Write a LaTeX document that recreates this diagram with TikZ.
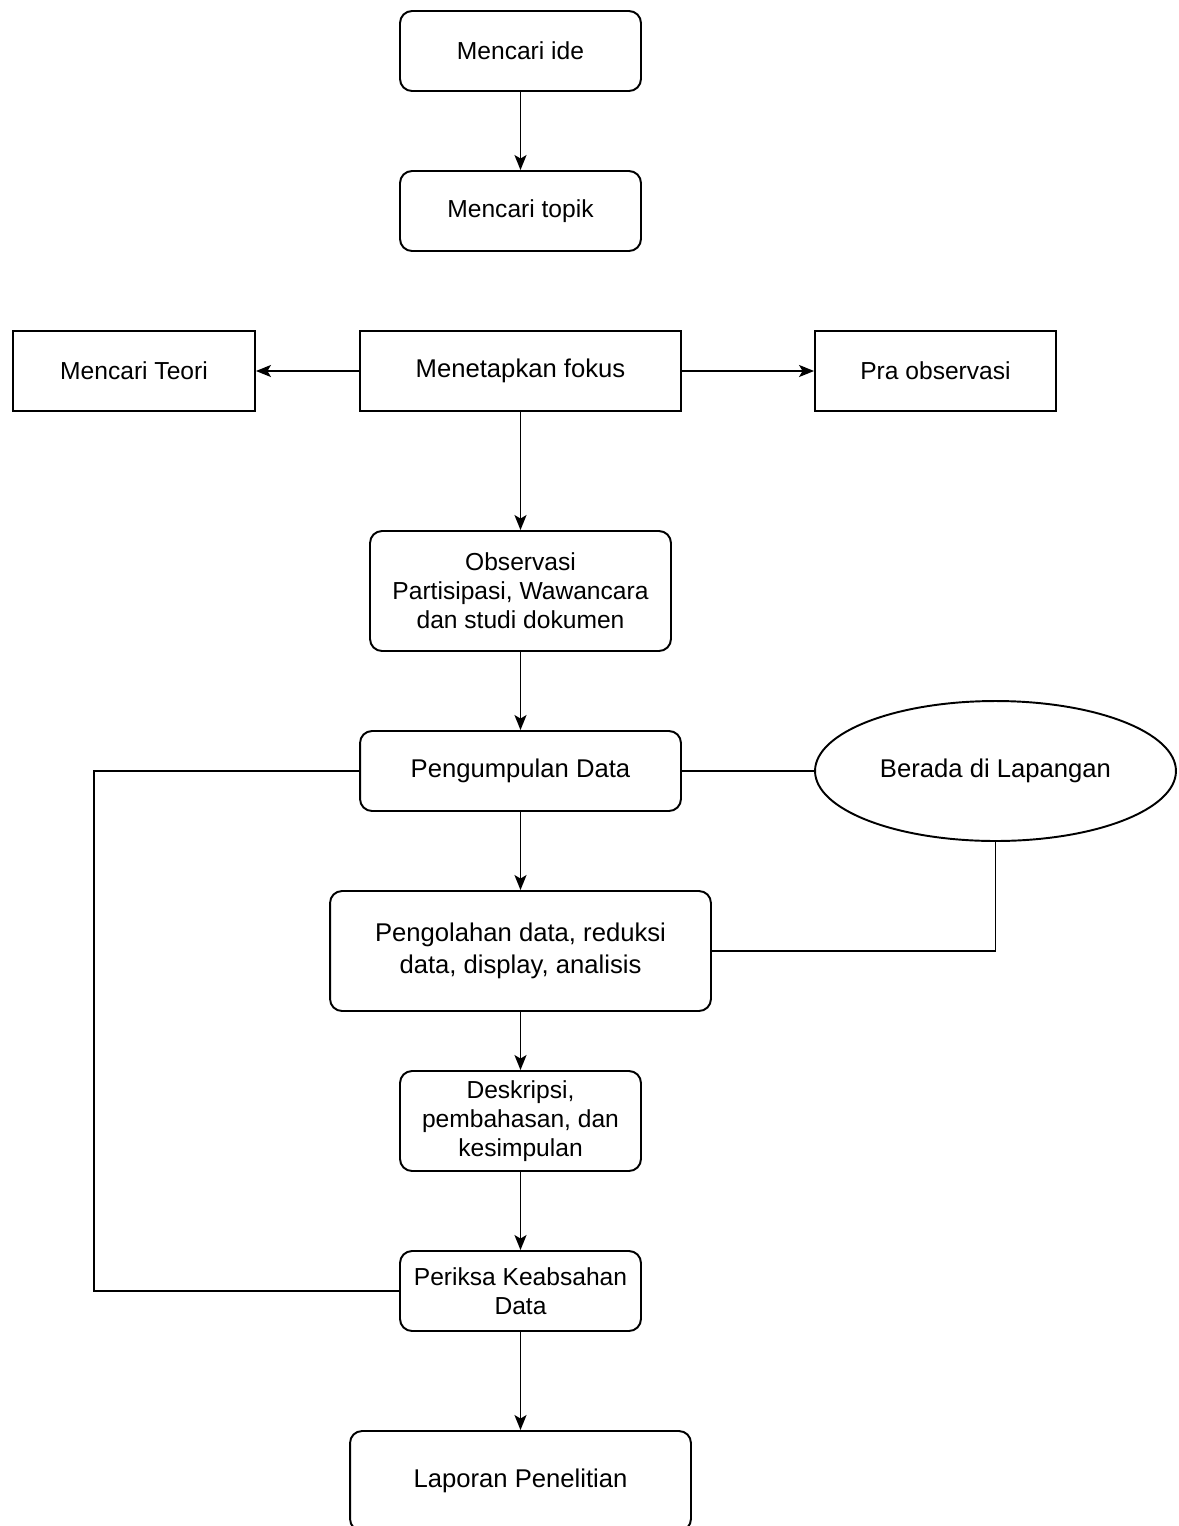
\documentclass[tikz,border=0pt]{standalone}
\usepackage{fontspec}
\setmainfont{Liberation Sans}
\usetikzlibrary{arrows.meta,shapes.geometric}
\newcommand{\txtsmall}{\fontsize{14pt}{16.5pt}\selectfont}
\newcommand{\txtlarge}{\fontsize{14.6pt}{18pt}\selectfont}
\tikzset{
	stepbox/.style={draw,line width=1.1pt,rounded corners=2.4mm,align=center,inner sep=0pt,font=\txtsmall},
	plainbox/.style={draw,line width=1.1pt,align=center,inner sep=0pt,font=\txtsmall},
	fieldbox/.style={draw,ellipse,line width=1.1pt,inner sep=0pt,font=\txtlarge},
	flow/.style={line width=1.1pt,-{Stealth[length=3mm,width=2.4mm,inset=0.7mm]}},
	link/.style={line width=1.1pt},
}
\begin{document}
\begin{tikzpicture}[x=0.02cm,y=-0.02cm]
	\useasboundingbox (0,0) rectangle (1179,1526);
	% Idea and topic
	\node[stepbox,minimum width=4.82cm,minimum height=1.6cm] (ide) at (520.5,51) {Mencari ide};
	\node[stepbox,minimum width=4.82cm,minimum height=1.6cm] (topik) at (520.5,211) {Mencari topik};
	% Focus row
	\node[plainbox,minimum width=4.84cm,minimum height=1.6cm] (teori) at (134,371) {Mencari Teori};
	\node[plainbox,minimum width=6.42cm,minimum height=1.6cm,font=\txtlarge] (fokus) at (520.5,371) {Menetapkan fokus};
	\node[plainbox,minimum width=4.82cm,minimum height=1.6cm] (pra) at (935.5,371) {Pra observasi};
	% Field work
	\node[stepbox,minimum width=6.02cm,minimum height=2.4cm] (obs) at (520.5,591) {Observasi\\Partisipasi, Wawancara\\dan studi dokumen};
	\node[stepbox,minimum width=6.42cm,minimum height=1.6cm,font=\txtlarge] (kumpul) at (520.5,771) {Pengumpulan Data};
	\node[fieldbox,minimum width=7.22cm,minimum height=2.8cm] (lapangan) at (995.5,771) {Berada di Lapangan};
	\node[stepbox,minimum width=7.62cm,minimum height=2.4cm,font=\txtlarge] (olah) at (520.5,951) {Pengolahan data, reduksi\\data, display, analisis};
	% Results
	\node[stepbox,minimum width=4.82cm,minimum height=2cm] (deskripsi) at (520.5,1121) {Deskripsi,\\pembahasan, dan\\kesimpulan};
	\node[stepbox,minimum width=4.82cm,minimum height=1.6cm] (periksa) at (520.5,1291) {Periksa Keabsahan\\Data};
	\node[stepbox,minimum width=6.82cm,minimum height=2cm,font=\txtlarge] (laporan) at (520.5,1481) {Laporan Penelitian};
	% Connectors
	\draw[flow] (ide) -- (topik);
	\draw[flow] (fokus) -- (teori);
	\draw[flow] (fokus) -- (pra);
	\draw[flow] (fokus) -- (obs);
	\draw[flow] (obs) -- (kumpul);
	\draw[flow] (kumpul) -- (olah);
	\draw[flow] (olah) -- (deskripsi);
	\draw[flow] (deskripsi) -- (periksa);
	\draw[flow] (periksa) -- (laporan);
	\draw[link] (kumpul) -- (lapangan);
	\draw[link] (lapangan.south) |- (olah.east);
	% Loop back on the left
	\coordinate (kiri) at (94,0);
	\draw[link] (kumpul.west) -- (kumpul.west -| kiri) |- (periksa.west);
\end{tikzpicture}
\end{document}
